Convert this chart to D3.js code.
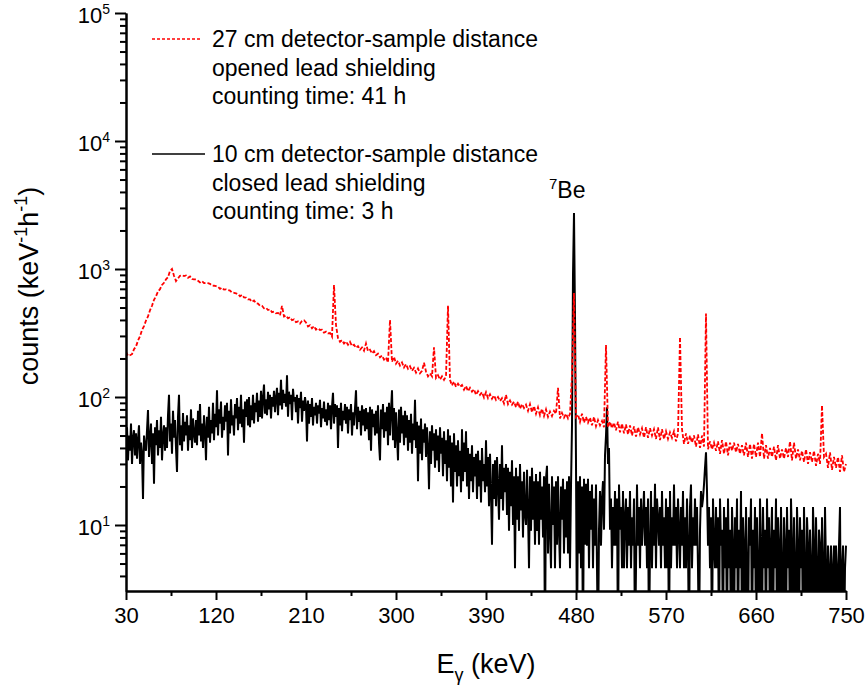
<!DOCTYPE html>
<html><head><meta charset="utf-8">
<script src="https://cdn.jsdelivr.net/npm/d3@7"></script>
<style>
body{margin:0;background:#fff}
svg{display:block;font-family:"Liberation Sans",Arial,Helvetica,sans-serif}
</style></head><body>
<svg id="c" width="868" height="696"></svg>
<script>
// ---------- data ----------
const energyStart = 30;           // keV, first channel
const blackStep = 1;              // keV per value
const redStep = 2;                // keV per value
const xTicks = [30,120,210,300,390,480,570,660,750];
const xMinorTicks = [75,165,255,345,435,525,615,705];
const yTicks = [10,100,1000,10000,100000];
const legendRed = ["27 cm detector-sample distance","opened lead shielding","counting time: 41 h"];
const legendBlack = ["10 cm detector-sample distance","closed lead shielding","counting time: 3 h"];
const peakLabel = {sup:"7", text:"Be", energy:478};

// 10 cm, closed shielding, 3 h (keV^-1 h^-1), one value per keV from 30 keV
const blackCounts = [
45,58,32,50,38,62,30,48,55,35,
52,33,46,60,30,44,36,16,50,40,
38,55,79,34,48,62,30,52,21,58,
42,66,35,55,40,70,32,50,60,38,
58,40,72,104,45,62,36,78,48,66,
40,26,70,104,42,60,38,75,45,64,
50,72,38,60,46,80,40,68,52,44,
66,42,78,50,88,45,62,40,72,55,
32,70,48,84,44,66,52,90,46,74,
58,113,50,80,62,92,48,70,55,86,
64,90,35,78,52,96,60,72,50,88,
68,98,55,84,62,104,58,80,44,92,
70,96,60,100,58,86,66,104,62,90,
76,108,64,94,70,112,68,98,125,74,
96,72,110,80,104,68,100,84,112,76,
98,118,72,108,86,136,80,114,90,106,
84,148,70,110,88,104,66,116,92,100,
76,104,62,98,82,110,64,94,78,100,
86,45,94,62,88,70,98,60,84,72,
90,62,86,74,95,58,82,68,92,64,
80,60,90,66,86,56,84,108,62,88,
70,86,40,82,60,90,54,78,66,88,
62,84,52,80,66,88,50,76,60,82,
113,56,84,64,78,50,86,60,80,54,
82,56,76,46,84,38,80,58,74,50,
78,52,86,44,32,80,56,88,48,76,
54,84,42,90,50,78,113,46,82,40,
76,50,32,80,44,84,52,72,42,78,
48,72,38,66,44,74,36,62,46,95,
40,64,22,60,36,68,32,56,44,62,
34,58,40,19,54,30,60,38,52,28,
56,32,50,26,58,36,48,24,54,30,
46,22,56,28,50,20,44,15,52,26,
42,20,46,24,38,18,56,22,44,26,
54,20,40,16,36,22,42,18,34,24,
36,16,38,20,32,15,40,22,30,18,
46,20,34,14,36,18,7,30,16,32,
14,34,20,11,30,16,42,13,28,18,
30,12,28,9,26,14,32,10,24,4.6,
28,11,24,9,30,13,22,8,26,12,
10,27,13,4.6,24,9,28,11,22,7,
25,9,22,7,26,11,20,8,24,0,
23,29,6,21,9,4.6,24,10,20,4.6,
22,7,24,9,4.6,20,11,23,6,19,
8,22,6,24,4.6,20,60,900,2740,420,
30,0,22,6,24,4.6,20,0,23,7,
21,6.9,23,4.6,18.4,9.2,20.7,4.6,16.1,6.9,
20.7,4.6,0,9.2,18.4,6.9,16.1,22,9.2,35,
50,83,30,40,9.2,16.1,4.6,13.8,6.9,18.4,
6.9,16.1,0,20.7,9.2,13.8,4.6,18.4,4.6,11.5,
16.1,4.6,13.8,6.9,18.4,4.6,11.5,6.9,16.1,0,
4.6,20.7,6.9,13.8,4.6,16.1,6.9,11.5,18.4,6.9,
13.8,4.6,16.1,0,6.9,18.4,4.6,13.8,6.9,21,
4.6,16.1,11.5,6.9,13.8,4.6,18.4,6.9,11.5,4.6,
16.1,4.6,13.8,0,18.4,4.6,11.5,6.9,20.7,6.9,
13.8,4.6,16.1,9.2,4.6,13.8,6.9,18.4,4.6,11.5,
4.6,16.1,6.9,0,13.8,20.7,4.6,11.5,6.9,16.1,
6.9,13.8,4.6,0,9.2,18.4,13.8,16.1,20.7,28,
37,18.4,6.9,13.8,4.6,11.5,0,16.1,6.9,4.6,
13.8,4.6,11.5,0,16.1,6.9,9.2,0,13.8,4.6,
11.5,0,16.1,4.6,9.2,0,13.8,6.9,0,11.5,
4.6,16.1,0,9.2,4.6,18.4,0,11.5,6.9,0,
13.8,4.6,0,11.5,6.9,16.1,0,9.2,4.6,13.8,
0,11.5,4.6,0,16.1,6.9,0,13.8,4.6,9.2,
0,16.1,4.6,11.5,0,6.9,13.8,0,9.2,4.6,
16.1,0,11.5,6.9,0,13.8,4.6,0,11.5,6.9,
0,13.8,4.6,9.2,0,16.1,6.9,0,11.5,4.6,
0,13.8,6.9,0,11.5,4.6,9.2,0,13.8,4.6,
0,11.5,6.9,0,9.2,4.6,0,13.8,6.9,0,
11.5,4.6,0,9.2,6.9,0,11.5,4.6,0,13.8,
4.6,0,6.9,4.6,0,6.9,0,4.6,6.9,0,
6.9,4.6,0,6.9,13.8,0,4.6,6.9,0,4.6,
6.9];

// 27 cm, opened shielding, 41 h (keV^-1 h^-1), one value per 2 keV from 30 keV
const redCounts = [
225,210,212,216,236,248,276,298,334,358,
396,426,476,516,574,612,668,696,750,780,
830,862,965,1000,885,805,845,885,895,880,
890,855,875,835,830,830,810,785,805,775,
778,775,765,742,740,735,726,700,716,690,
694,684,678,654,652,646,636,612,628,600,
598,578,578,554,568,540,536,516,516,494,
498,478,484,460,464,450,454,434,515,426,
432,412,420,398,404,384,390,374,392,398,
382,356,364,344,358,336,344,334,336,318,
324,314,316,296,750,365,288,270,278,262,
272,256,270,250,256,242,250,234,244,230,
262,228,234,219,228,212,218,204,211,196,
204,186,400,188,206,182,192,176,186,170,
181,166,174,160,169,155,167,153,160,185,
158,145,153,145,245,141,148,137,145,136,
145,515,136,123,132,120,127,120,124,114,
122,111,118,110,115,104,111,104,109,99,
109,98,105,97,103,95,100,93,98,89,
104,88,94,87,92,83,92,81,88,82,
87,78,88,76,85,74,83,72,81,71,
80,70,77,71,78,74,118,68,75,69,
74,68,74,150,650,70,73,64,74,63,
70,63,69,60,70,59,66,60,65,58,
255,58,64,57,63,55,64,53,62,52,
61,51,60,50,59,49,58,51,57,48,
58,48,57,50,56,47,58,46,56,47,
54,47,53,48,54,45,52,294,56,43,
52,43,50,44,50,41,51,40,50,41,
450,39,45,39,44,38,45,36,46,36,
45,35,44,38,44,37,43,36,42,35,
44,34,43,33,43,34,44,34,52,33,
42,33,40,34,41,32,42,33,39,33,
40,34,45,32,44,33,39,32,38,31,
39,30,37,31,38,29,36,30,86,34,
36,28,37,27,34,28,34,26,35,26,
30];

// ---------- layout ----------
const L = 126, R = 846, T = 13, B = 591;
const svg = d3.select("#c");
const x = d3.scaleLinear().domain([30, 750]).range([L, R]);
const yMin = Math.pow(10, 1 - 66/128);
const y = d3.scaleLog().domain([yMin, 1e5]).range([B, T]);

const toPts = (arr, step) => arr.map((v, i) => [energyStart + i*step, v]);
const line = d3.line().x(d => x(d[0])).y(d => y(Math.max(d[1], 1)));

svg.append("defs").append("clipPath").attr("id","plot")
  .append("rect").attr("x", L).attr("y", T - 2).attr("width", R - L + 1).attr("height", B - T + 2);

const plot = svg.append("g").attr("clip-path","url(#plot)");
plot.append("path").datum(toPts(blackCounts, blackStep))
  .attr("d", line).attr("fill","none").attr("stroke","#000").attr("stroke-width",2).attr("stroke-linejoin","bevel");
plot.append("path").datum(toPts(redCounts, redStep))
  .attr("d", line).attr("fill","none").attr("stroke","#ff0000").attr("stroke-width",1.8)
  .attr("stroke-dasharray","4,2");

// ---------- axes ----------
const font = '"Liberation Sans",Arial,Helvetica,sans-serif';
const yMinor = [];
for (let d = 0; d < 5; d++) for (let k = 2; k <= 9; k++) {
  const v = k*Math.pow(10, d);
  if (v >= yMin && v <= 1e5) yMinor.push(v);
}
const gyMinor = svg.append("g").attr("transform",`translate(${L},0)`)
  .call(d3.axisLeft(y).tickValues(yMinor).tickSize(6).tickSizeOuter(0).tickFormat(""));
const gy = svg.append("g").attr("transform",`translate(${L},0)`)
  .call(d3.axisLeft(y).tickValues(yTicks).tickSize(11).tickSizeOuter(0).tickFormat(""));
[gyMinor, gy].forEach(g => { g.selectAll("line").attr("stroke","#000").attr("stroke-width",2);
  g.select(".domain").attr("stroke","#000").attr("stroke-width",2); });

gy.selectAll(".tick").each(function(d){
  const t = d3.select(this).append("text").attr("x",-16).attr("y",9)
    .attr("text-anchor","end").attr("fill","#000").style("font-family",font).style("font-size","22px");
  t.append("tspan").text("10");
  t.append("tspan").attr("dy",-9).style("font-size","14px").text(Math.round(Math.log10(d)));
});

const gxMinor = svg.append("g").attr("transform",`translate(0,${B})`)
  .call(d3.axisBottom(x).tickValues(xMinorTicks).tickSize(5).tickSizeOuter(0).tickFormat(""));
const gx = svg.append("g").attr("transform",`translate(0,${B})`)
  .call(d3.axisBottom(x).tickValues(xTicks).tickSize(9).tickSizeOuter(0).tickFormat(d3.format("d")));
[gxMinor, gx].forEach(g => { g.selectAll("line").attr("stroke","#000").attr("stroke-width",2);
  g.select(".domain").attr("stroke","#000").attr("stroke-width",2); });
gx.selectAll("text").attr("y",16).attr("dy","0.71em").attr("fill","#000")
  .style("font-family",font).style("font-size","22px");

// axis titles
const xt = svg.append("text").attr("x",(L+R)/2).attr("y",673).attr("text-anchor","middle")
  .style("font-family",font).style("font-size","27px").attr("fill","#000");
xt.append("tspan").text("E");
xt.append("tspan").attr("dy",8).style("font-size","18px").text("γ");
xt.append("tspan").attr("dy",-8).text(" (keV)");

const yt = svg.append("text").attr("transform","translate(38,286) rotate(-90)").attr("text-anchor","middle")
  .style("font-family",font).style("font-size","27px").attr("fill","#000");
yt.append("tspan").text("counts (keV");
yt.append("tspan").attr("dy",-11).style("font-size","18px").text("-1");
yt.append("tspan").attr("dy",11).text("h");
yt.append("tspan").attr("dy",-11).style("font-size","18px").text("-1");
yt.append("tspan").attr("dy",11).text(")");

// legend
svg.append("line").attr("x1",152).attr("x2",202).attr("y1",39).attr("y2",39)
  .attr("stroke","#ff0000").attr("stroke-width",1.5).attr("stroke-dasharray","3,2");
svg.append("line").attr("x1",152).attr("x2",205).attr("y1",154).attr("y2",154)
  .attr("stroke","#000").attr("stroke-width",1.5);
const legText = (lines, y0) => lines.forEach((s, i) =>
  svg.append("text").attr("x",212).attr("y",y0 + i*28.5).text(s)
    .style("font-family",font).style("font-size","23px").attr("fill","#000"));
legText(legendRed, 47);
legText(legendBlack, 162);

// peak label
const pl = svg.append("text").attr("x", x(peakLabel.energy) - 25).attr("y",198)
  .style("font-family",font).style("font-size","23px").attr("fill","#000");
pl.append("tspan").attr("dy",-9).style("font-size","15px").text(peakLabel.sup);
pl.append("tspan").attr("dy",9).text(peakLabel.text);
</script>
</body></html>
